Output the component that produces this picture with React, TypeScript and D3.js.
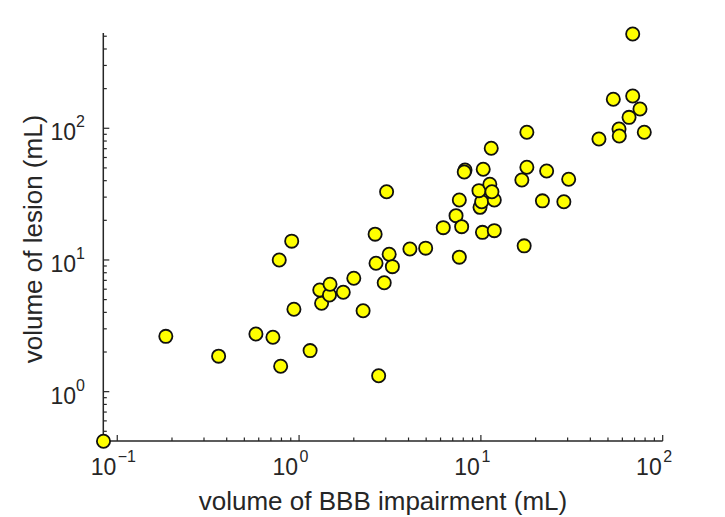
import * as d3 from "d3";

// BBB impairment volume (mL) vs lesion volume (mL), one entry per subject
const bbbVolume = [
  0.084, 0.185, 0.361, 0.579, 0.718, 0.792, 1.15, 2.74, 0.911, 0.778,
  0.937, 1.33, 1.3, 1.47, 1.48, 1.75, 2.0, 2.25, 2.94, 2.62,
  2.65, 3.13, 3.26, 3.03, 4.07, 4.97, 7.61, 6.21, 7.3, 7.84,
  7.61, 10.2, 11.85, 9.89, 10.1, 11.85, 9.76, 11.2, 11.5, 8.18,
  8.1, 10.3, 11.4, 17.9, 17.9, 16.8, 23.0, 30.4, 21.8, 28.6,
  17.3, 68.4, 53.5, 68.4, 75.0, 65.3, 57.5, 79.2, 44.6, 57.7,
];
const lesionVolume = [
  0.42, 2.63, 1.86, 2.74, 2.59, 1.56, 2.05, 1.32, 13.9, 10.0,
  4.22, 4.69, 5.92, 5.42, 6.54, 5.69, 7.26, 4.12, 6.72, 15.7,
  9.44, 11.05, 8.9, 33.0, 12.1, 12.3, 10.5, 17.6, 21.7, 17.9,
  28.5, 16.2, 16.7, 25.1, 27.7, 28.5, 33.6, 37.6, 33.0, 48.2,
  46.6, 48.8, 70.5, 93.2, 50.6, 40.5, 47.4, 41.0, 28.1, 27.7,
  12.8, 520, 166, 176, 140, 121, 98.8, 93.2, 83.0, 87.4,
];
const xDomain = [0.0838, 100];
const yDomain = [0.422, 529];
const xMajor = [-1, 0, 1, 2];
const yMajor = [0, 1, 2];
const xLabel = "volume of BBB impairment (mL)";
const yLabel = "volume of lesion (mL)";

const W = 725,
  H = 517;
const left = 103.3,
  right = 662.7,
  top = 33,
  bottom = 441;
const axisCol = "#262626";
const font = "'Liberation Sans', Arial, Helvetica, sans-serif";
const tickSize = 23,
  supSize = 16,
  labelSize = 26;

export default function App() {
  const x = d3.scaleLog().domain(xDomain).range([left, right]);
  const y = d3.scaleLog().domain(yDomain).range([bottom, top]);
  const xTicks = x.ticks();
  const yTicks = y.ticks();
  const isMajor = (v) => Math.abs(Math.log10(v) - Math.round(Math.log10(v))) < 1e-9;

  return (
    <svg
      width={W}
      height={H}
      style={{ position: "absolute", left: 0, top: 0, background: "#fff" }}
      fontFamily={font}
    >
      <rect x={0} y={0} width={W} height={H} fill="#fff" />
      {/* x axis */}
      <line x1={left} x2={right} y1={bottom} y2={bottom} stroke={axisCol} strokeWidth={1.5} />
      {xTicks.map((t, i) => {
        const px = x(t);
        const len = isMajor(t) ? 6 : 3.5;
        return (
          <line key={"xt" + i} x1={px} x2={px} y1={bottom} y2={bottom - len} stroke={axisCol} strokeWidth={1.2} />
        );
      })}
      {xMajor.map((e) => (
        <g key={"xl" + e} fill={axisCol}>
          <text x={x(Math.pow(10, e)) - 1} y={475} fontSize={tickSize} textAnchor="end">
            10
          </text>
          <text x={x(Math.pow(10, e)) + 0.5} y={462} fontSize={supSize} textAnchor="start">
            {e < 0 ? "\u2212" + Math.abs(e) : e}
          </text>
        </g>
      ))}
      <text x={(left + right) / 2} y={510} fontSize={labelSize} textAnchor="middle" fill={axisCol}>
        {xLabel}
      </text>

      {/* y axis */}
      <line x1={left} x2={left} y1={top} y2={bottom} stroke={axisCol} strokeWidth={1.5} />
      {yTicks.map((t, i) => {
        const py = y(t);
        const len = isMajor(t) ? 6 : 3.5;
        return (
          <line key={"yt" + i} x1={left} x2={left + len} y1={py} y2={py} stroke={axisCol} strokeWidth={1.2} />
        );
      })}
      {yMajor.map((e) => (
        <text key={"yl" + e} x={85} y={y(Math.pow(10, e)) + 12} fontSize={tickSize} textAnchor="end" fill={axisCol}>
          10
          <tspan fontSize={supSize} dy={-13}>
            {e}
          </tspan>
        </text>
      ))}
      <text
        transform={`translate(33,${(top + bottom) / 2 + 2}) rotate(-90)`}
        fontSize={labelSize}
        textAnchor="middle"
        dominantBaseline="central"
        fill={axisCol}
      >
        {yLabel}
      </text>

      {/* points */}
      <g>
        {bbbVolume.map((v, i) => (
          <circle
            key={i}
            cx={x(v)}
            cy={y(lesionVolume[i])}
            r={6.6}
            fill="#ffff00"
            stroke="#111"
            strokeWidth={1.8}
          />
        ))}
      </g>
    </svg>
  );
}
